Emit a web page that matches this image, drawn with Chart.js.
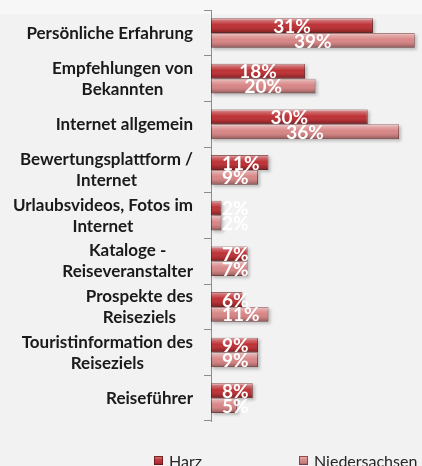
<!DOCTYPE html>
<html><head><meta charset="utf-8">
<script src="https://cdn.jsdelivr.net/npm/chart.js@4"></script>
<style>
html,body{margin:0;padding:0;width:422px;height:466px;overflow:hidden;background:linear-gradient(#f7f7f7 0,#f7f7f7 14px,#f2f2f2 14px,#f2f2f2 100%)}
#wrap{width:422px;height:466px;position:relative}
</style></head><body>
<div id="wrap"><canvas id="c" width="422" height="466"></canvas></div>
<script>
const categories = [
  ['Persönliche Erfahrung'],
  ['Empfehlungen von', 'Bekannten'],
  ['Internet allgemein'],
  ['Bewertungsplattform /', 'Internet'],
  ['Urlaubsvideos, Fotos im', 'Internet'],
  ['Kataloge -', 'Reiseveranstalter'],
  ['Prospekte des', 'Reiseziels'],
  ['Touristinformation des', 'Reiseziels'],
  ['Reiseführer']
];
const seriesNames = ['Harz', 'Niedersachsen'];
const harz = [31, 18, 30, 11, 2, 7, 6, 9, 8];
const niedersachsen = [39, 20, 36, 9, 2, 7, 11, 9, 5];
const axisMax = 40;

const FONT = 'Lato, "Open Sans", sans-serif';
const colors = ['#bd3236', '#d88686'];
const borders = ['rgba(100,22,22,0.85)', 'rgba(125,55,55,0.85)'];

function barRect(el) {
  const p = el.getProps(['x', 'y', 'base', 'height'], true);
  const left = Math.min(p.x, p.base), right = Math.max(p.x, p.base);
  return {left, right, top: p.y - p.height / 2, bottom: p.y + p.height / 2, cy: p.y};
}
function gloss(ctx, l, t, w, h) {
  const g = ctx.createLinearGradient(0, t, 0, t + h);
  g.addColorStop(0, 'rgba(255,255,255,0.55)');
  g.addColorStop(0.15, 'rgba(255,255,255,0.28)');
  g.addColorStop(0.45, 'rgba(255,255,255,0.0)');
  g.addColorStop(0.8, 'rgba(0,0,0,0.12)');
  g.addColorStop(1, 'rgba(0,0,0,0.30)');
  ctx.fillStyle = g;
  ctx.fillRect(l, t, w, h);
}

const shadowPlugin = {
  id: 'shadows',
  beforeDatasetsDraw(chart) {
    const ctx = chart.ctx;
    ctx.save();
    chart.data.datasets.forEach((ds, di) => {
      chart.getDatasetMeta(di).data.forEach(el => {
        const r = barRect(el);
        ctx.fillStyle = 'rgba(0,0,0,0.22)';
        ctx.filter = 'blur(1.5px)';
        ctx.fillRect(r.left + 2, r.top + 2, r.right - r.left, r.bottom - r.top);
      });
    });
    ctx.restore();
  }
};

const glossLabelPlugin = {
  id: 'glossLabels',
  afterDatasetsDraw(chart) {
    const ctx = chart.ctx;
    ctx.save();
    chart.data.datasets.forEach((ds, di) => {
      chart.getDatasetMeta(di).data.forEach(el => {
        const r = barRect(el);
        gloss(ctx, r.left + 0.5, r.top + 0.5, r.right - r.left - 1, r.bottom - r.top - 1);
      });
    });
    ctx.font = 'bold 19px ' + FONT;
    ctx.fillStyle = '#ffffff';
    ctx.textBaseline = 'middle';
    ctx.textAlign = 'left';
    chart.data.datasets.forEach((ds, di) => {
      chart.getDatasetMeta(di).data.forEach((el, i) => {
        const r = barRect(el);
        const txt = ds.data[i] + '%';
        const w = ctx.measureText(txt).width;
        const cx = (r.left + r.right) / 2;
        const x = Math.max(cx - w / 2, r.left + 11);
        ctx.fillText(txt, x, r.cy + 1);
      });
    });
    ctx.restore();
  }
};

const catLabelPlugin = {
  id: 'catLabels',
  afterDraw(chart) {
    const ctx = chart.ctx, s = chart.scales.y;
    ctx.save();
    ctx.font = 'bold 17px ' + FONT;
    ctx.fillStyle = '#1a1a1a';
    ctx.textBaseline = 'middle';
    ctx.textAlign = 'center';
    const rightEdge = s.right - 18;
    const lh = 21;
    categories.forEach((lines, i) => {
      const y = s.getPixelForTick(i);
      const w = Math.max(...lines.map(l => ctx.measureText(l).width));
      const cx = rightEdge - w / 2;
      lines.forEach((l, j) => ctx.fillText(l, cx, y + (j - (lines.length - 1) / 2) * lh));
    });
    ctx.restore();
  }
};

const legendPlugin = {
  id: 'customLegend',
  afterDraw(chart) {
    const ctx = chart.ctx;
    ctx.save();
    ctx.font = '16px ' + FONT;
    ctx.textBaseline = 'middle';
    ctx.textAlign = 'left';
    const xs = [154, 299];
    const y = 460.5;
    chart.data.datasets.forEach((ds, di) => {
      const x = xs[di];
      ctx.fillStyle = ds.backgroundColor;
      ctx.fillRect(x, y - 4.5, 9, 9);
      gloss(ctx, x, y - 4.5, 9, 9);
      ctx.strokeStyle = ds.borderColor;
      ctx.lineWidth = 1;
      ctx.strokeRect(x + 0.5, y - 4, 8, 8);
      ctx.fillStyle = '#262626';
      ctx.fillText(ds.label, x + 15, y + 1);
    });
    ctx.restore();
  }
};

new Chart(document.getElementById('c'), {
  type: 'bar',
  data: {
    labels: categories,
    datasets: [
      {label: seriesNames[0], data: harz, backgroundColor: colors[0], borderColor: borders[0], borderWidth: 1, borderSkipped: false},
      {label: seriesNames[1], data: niedersachsen, backgroundColor: colors[1], borderColor: borders[1], borderWidth: 1, borderSkipped: false}
    ]
  },
  options: {
    indexAxis: 'y',
    responsive: false,
    animation: false,
    layout: {padding: {top: 5, bottom: 45, right: 2, left: 0}},
    datasets: {bar: {categoryPercentage: 0.65, barPercentage: 1}},
    scales: {
      x: {display: false, min: 0, max: axisMax},
      y: {
        afterFit(s) { s.width = 211; },
        grid: {drawOnChartArea: false, offset: true, tickLength: 7, color: '#8c8c8c'},
        border: {color: '#8c8c8c'},
        ticks: {color: 'rgba(0,0,0,0)'}
      }
    },
    plugins: {legend: {display: false}, tooltip: {enabled: false}}
  },
  plugins: [shadowPlugin, glossLabelPlugin, catLabelPlugin, legendPlugin]
});
</script>
</body></html>
